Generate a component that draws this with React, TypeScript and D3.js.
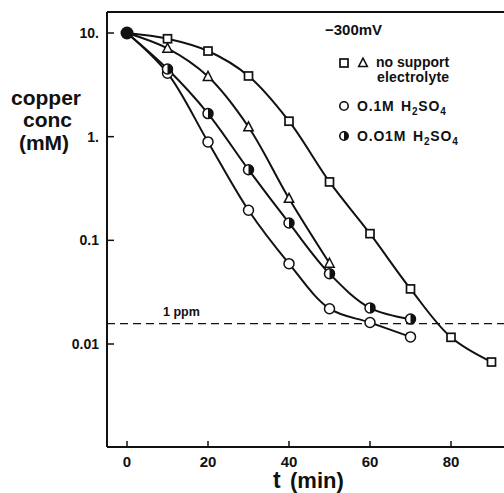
import React from "react";
import * as d3 from "d3";

const timesSquare = [0, 10, 20, 30, 40, 50, 60, 70, 80, 90];
const noSupportSquare = [10, 8.8, 6.7, 3.85, 1.41, 0.366, 0.116, 0.034, 0.0116, 0.0067];
const timesTriangle = [0, 10, 20, 30, 40, 50];
const noSupportTriangle = [10, 7.1, 3.8, 1.24, 0.253, 0.06];
const timesAcid = [0, 10, 20, 30, 40, 50, 60, 70];
const acid01M = [10, 4.1, 0.89, 0.195, 0.0596, 0.0219, 0.0161, 0.0117];
const acid001M = [10, 4.49, 1.67, 0.48, 0.147, 0.0477, 0.0223, 0.0174];
const xTicks = [0, 20, 40, 60, 80];
const yTicks = [10, 1, 0.1, 0.01];
const yTickLabels = ["10.", "1.", "0.1", "0.01"];
const ppmLevel = 0.0157;

const W = 504;
const H = 493;
const FONT = "'Liberation Sans', Arial, Helvetica, sans-serif";

export default function App() {
  const x = d3.scaleLinear().domain([0, 80]).range([127, 451]);
  const y = d3.scaleLog().domain([10, 0.01]).range([33, 344]);
  const left = 107;
  const top = 12;
  const bottom = 447;

  const line = d3
    .line<[number, number]>()
    .x((d) => x(d[0]))
    .y((d) => y(d[1]))
    .curve(d3.curveCatmullRom.alpha(0.5));

  const zip = (t: number[], v: number[]) => t.map((tt, i) => [tt, v[i]] as [number, number]);
  const sq = zip(timesSquare, noSupportSquare);
  const tr = zip(timesTriangle, noSupportTriangle);
  const c1 = zip(timesAcid, acid01M);
  const c2 = zip(timesAcid, acid001M);

  const stroke = "#111";
  const sqSize = 8;
  const r = 5;

  const triPath = (cx: number, cy: number, s: number) =>
    `M${cx},${cy - s * 0.6}L${cx + s * 0.55},${cy + s * 0.45}L${cx - s * 0.55},${cy + s * 0.45}Z`;
  const halfPath = (cx: number, cy: number, rr: number) =>
    `M${cx},${cy - rr}A${rr},${rr} 0 0 1 ${cx},${cy + rr}Z`;

  return (
    <svg
      width={W}
      height={H}
      style={{ position: "absolute", left: 0, top: 0, background: "#fff" }}
      fontFamily={FONT}
    >
      <rect width={W} height={H} fill="#fff" />
      {/* frame */}
      <line x1={left} y1={top} x2={W} y2={top} stroke={stroke} strokeWidth={2} />
      <line x1={left} y1={top} x2={left} y2={bottom} stroke={stroke} strokeWidth={2} />
      <line x1={left} y1={bottom} x2={W} y2={bottom} stroke={stroke} strokeWidth={2} />

      {/* y ticks */}
      {yTicks.map((v, i) => (
        <g key={"y" + i}>
          <line x1={left} x2={left + 7} y1={y(v)} y2={y(v)} stroke={stroke} strokeWidth={1.5} />
          <text
            x={99}
            y={y(v)}
            dy="0.35em"
            textAnchor="end"
            fontSize={14}
            fontWeight="bold"
            fill="#111"
          >
            {yTickLabels[i]}
          </text>
        </g>
      ))}
      {/* x ticks */}
      {xTicks.map((v) => (
        <g key={"x" + v}>
          <line x1={x(v)} x2={x(v)} y1={bottom} y2={bottom - 6} stroke={stroke} strokeWidth={1.5} />
          <text x={x(v)} y={467} textAnchor="middle" fontSize={15} fontWeight="bold" fill="#111">
            {v}
          </text>
        </g>
      ))}

      {/* axis titles */}
      <text x={273} y={488} fontSize={23} fontWeight="bold" fill="#111">
        t
      </text>
      <text x={290} y={488} fontSize={22} fontWeight="bold" fill="#111">
        (min)
      </text>
      <g fontSize={21} fontWeight="bold" fill="#111">
        <text x={46} y={105} textAnchor="middle">copper</text>
        <text x={47.5} y={127} textAnchor="middle">conc</text>
        <text x={44} y={150} textAnchor="middle">(mM)</text>
      </g>

      {/* 1 ppm line */}
      <line
        x1={left}
        x2={W}
        y1={y(ppmLevel)}
        y2={y(ppmLevel)}
        stroke={stroke}
        strokeWidth={1.3}
        strokeDasharray="8,5"
      />
      <text x={163} y={y(ppmLevel) - 8} fontSize={12.5} fontWeight={600} fill="#111">
        1 ppm
      </text>

      {/* curves */}
      {[sq, tr, c1, c2].map((d, i) => (
        <path key={"l" + i} d={line(d) || ""} fill="none" stroke={stroke} strokeWidth={2} />
      ))}

      {/* markers */}
      {sq.slice(1).map((d, i) => (
        <rect
          key={"s" + i}
          x={x(d[0]) - sqSize / 2}
          y={y(d[1]) - sqSize / 2}
          width={sqSize}
          height={sqSize}
          fill="#fff"
          stroke={stroke}
          strokeWidth={1.7}
        />
      ))}
      {tr.slice(1).map((d, i) => (
        <path key={"t" + i} d={triPath(x(d[0]), y(d[1]), 8.5)} fill="#fff" stroke={stroke} strokeWidth={1.5} />
      ))}
      {c1.slice(1).map((d, i) => (
        <circle key={"c" + i} cx={x(d[0])} cy={y(d[1])} r={r} fill="#fff" stroke={stroke} strokeWidth={1.5} />
      ))}
      {c2.slice(1).map((d, i) => (
        <g key={"h" + i}>
          <circle cx={x(d[0])} cy={y(d[1])} r={r} fill="#fff" stroke={stroke} strokeWidth={1.5} />
          <path d={halfPath(x(d[0]), y(d[1]), r)} fill={stroke} />
        </g>
      ))}
      <circle cx={x(0)} cy={y(10)} r={6.5} fill={stroke} />

      {/* legend */}
      <g fill="#111" fontWeight="bold">
        <text x={325} y={35} fontSize={15}>−300mV</text>
        <rect x={340} y={59} width={8} height={8} fill="#fff" stroke={stroke} strokeWidth={1.7} />
        <path d={triPath(363, 63, 8)} fill="#fff" stroke={stroke} strokeWidth={1.5} />
        <text x={376} y={67} fontSize={14}>no support</text>
        <text x={377} y={82} fontSize={14} letterSpacing={0.2}>electrolyte</text>

        <circle cx={344} cy={106} r={4.2} fill="#fff" stroke={stroke} strokeWidth={1.6} />
        <text x={357} y={111} fontSize={14} letterSpacing={0.8}>O.1M</text>
        <text x={401} y={111} fontSize={14} letterSpacing={0.8}>
          H<tspan fontSize={10} dy={4}>2</tspan>
          <tspan dy={-4}>SO</tspan>
          <tspan fontSize={10} dy={4}>4</tspan>
        </text>

        <circle cx={344} cy={136} r={4.2} fill="#fff" stroke={stroke} strokeWidth={1.6} />
        <path d={halfPath(344, 136, 4.2)} fill={stroke} />
        <text x={357} y={141} fontSize={14} letterSpacing={0.8}>O.O1M</text>
        <text x={413} y={141} fontSize={14} letterSpacing={0.8}>
          H<tspan fontSize={10} dy={4}>2</tspan>
          <tspan dy={-4}>SO</tspan>
          <tspan fontSize={10} dy={4}>4</tspan>
        </text>
      </g>
    </svg>
  );
}
